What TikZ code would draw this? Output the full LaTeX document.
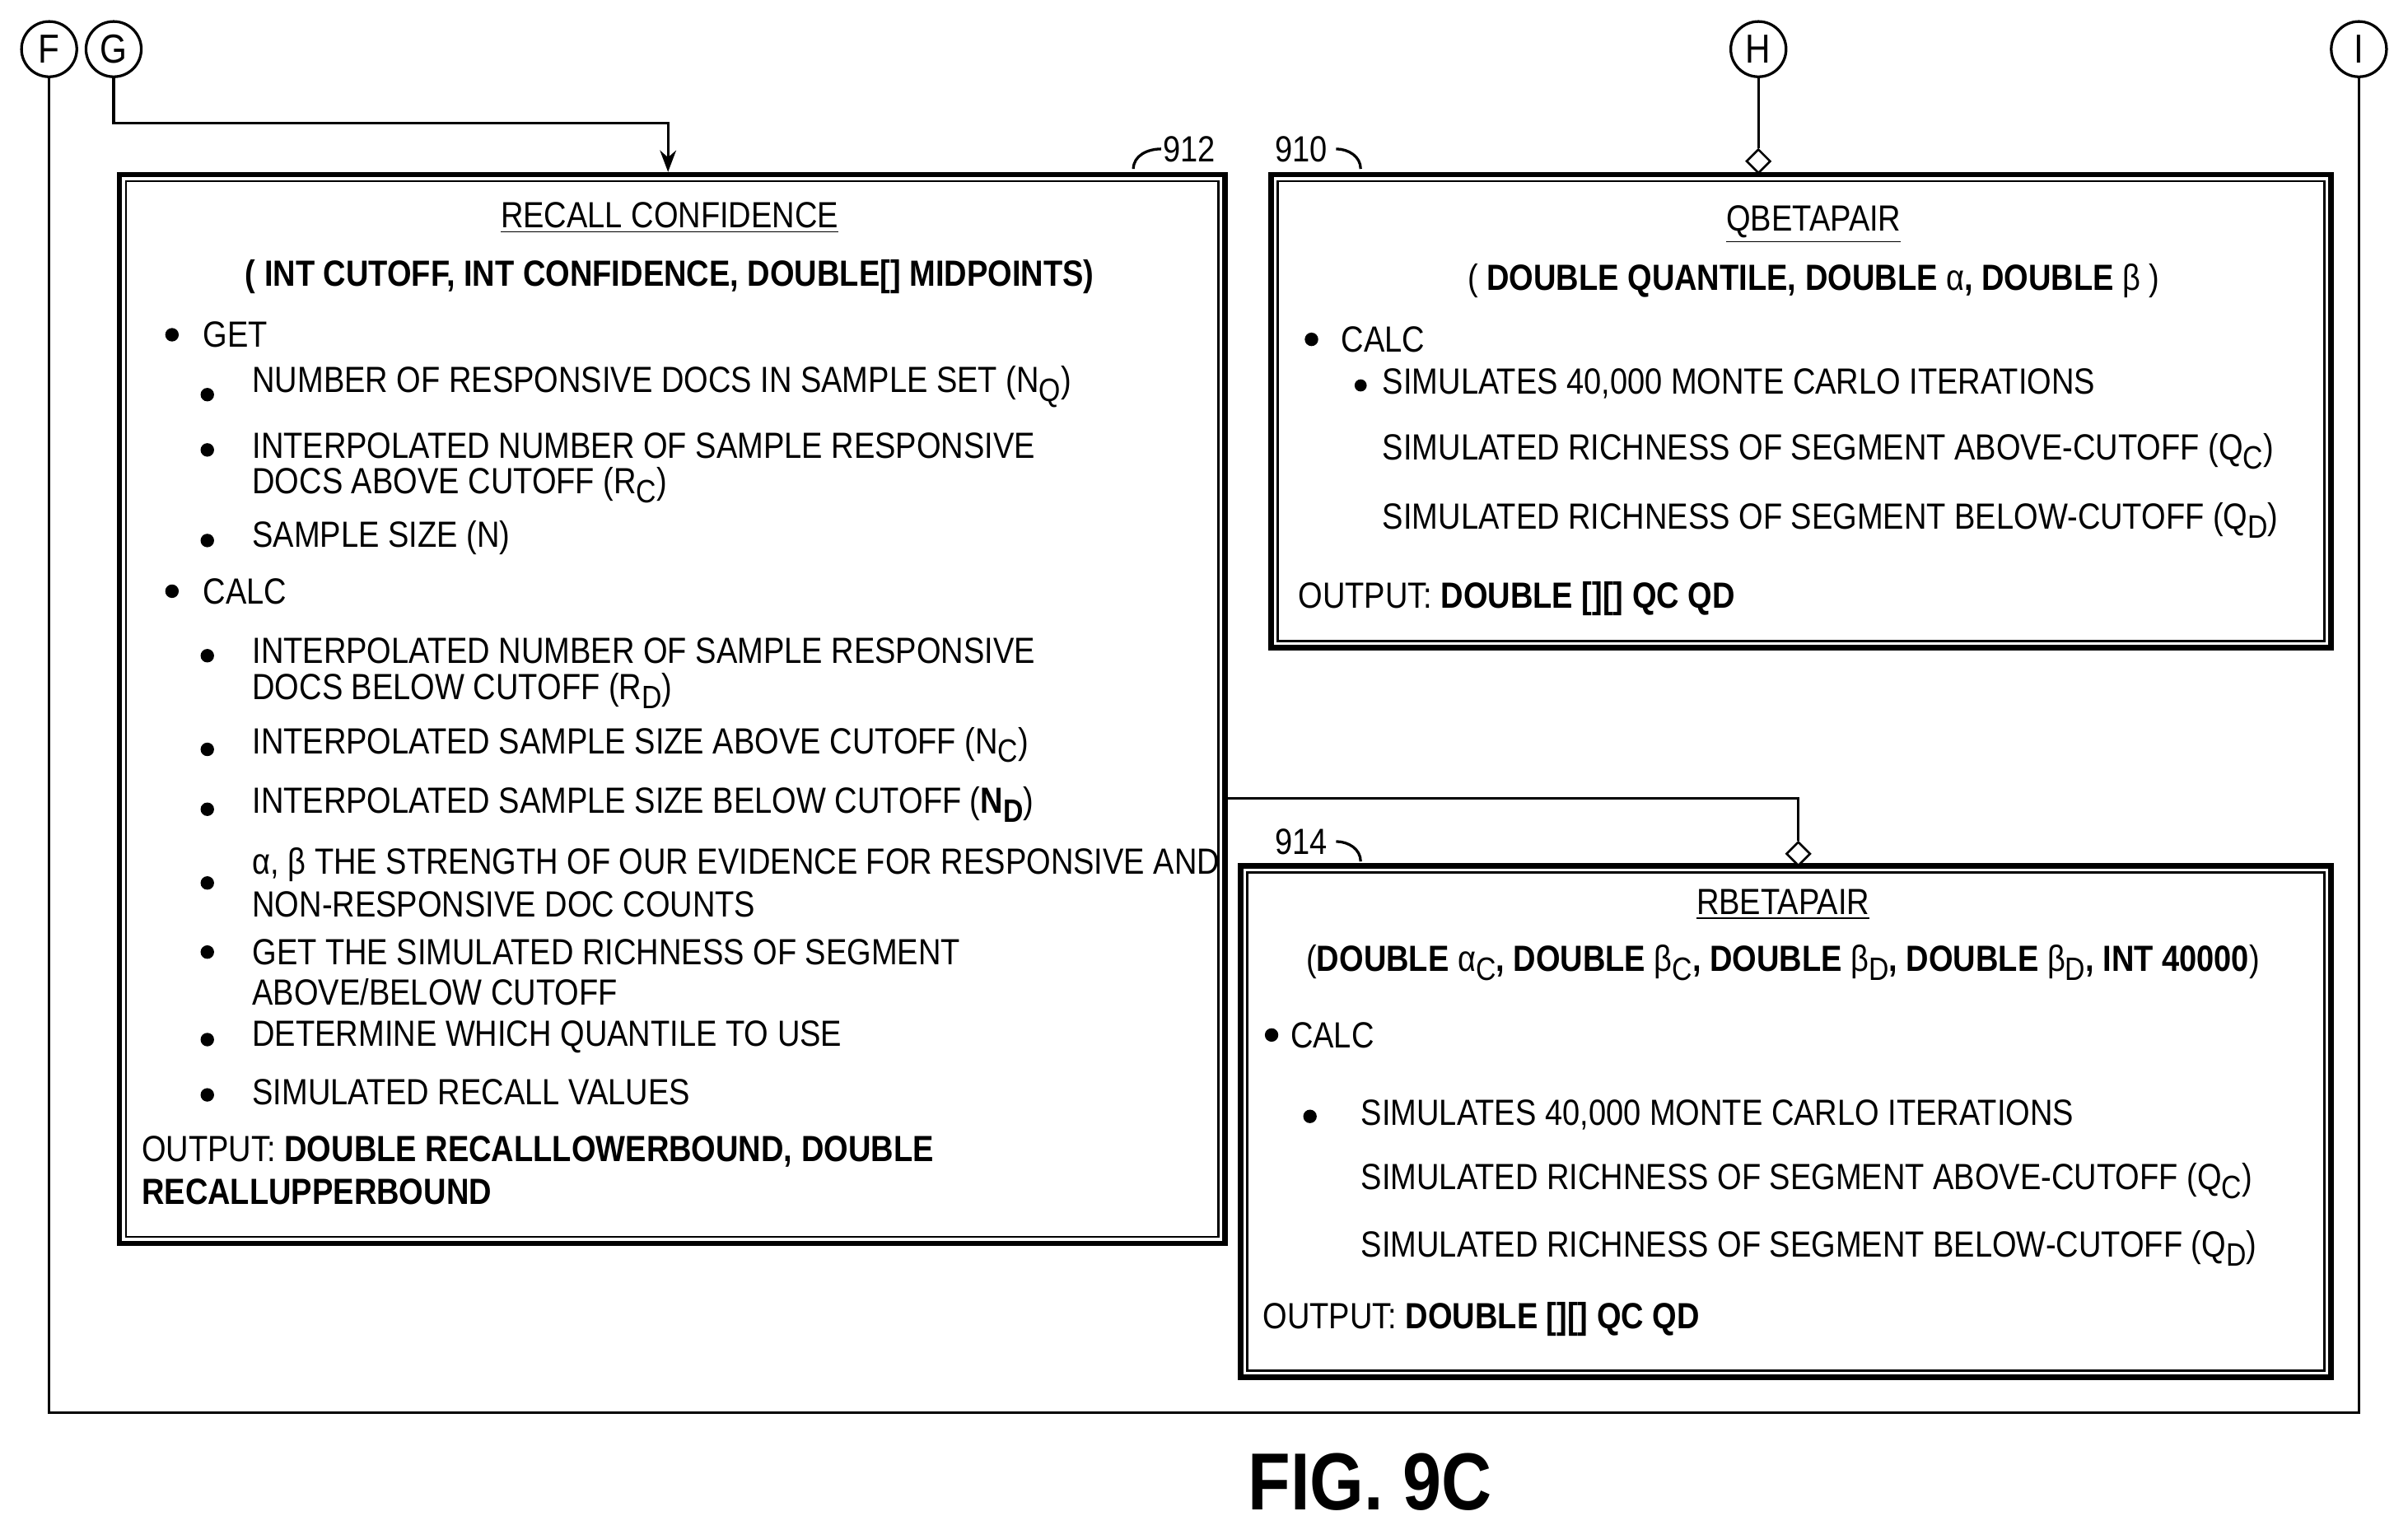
\documentclass[tikz,border=0pt]{standalone}
\usepackage{fontspec}
\setmainfont[FakeStretch=0.86]{Liberation Sans}
\usetikzlibrary{shapes.geometric,arrows.meta}
\newcommand\lsub[1]{\raisebox{-0.45ex}{\fontsize{12}{12}\selectfont #1}}
\tikzset{
  txt/.style={anchor=west, inner sep=0, font=\fontsize{13.5}{15}\selectfont},
  ctxt/.style={txt, anchor=center},
  bul/.style={circle, fill, inner sep=0, minimum size=5pt},
  box/.style={draw, line width=2pt, anchor=north west, inner sep=0},
  con/.style={draw, circle, line width=1pt, minimum size=36*0.02cm, inner sep=0, font=\fontsize{15}{15}\selectfont},
  dia/.style={draw, diamond, fill=white, line width=0.8pt, inner sep=0, minimum size=9pt},
  wire/.style={line width=1pt},
}
\begin{document}
\begin{tikzpicture}[x=0.02cm, y=-0.02cm]
  \useasboundingbox (0,0) rectangle (1568,996);
  % connectors off page
  \node[con] (F) at (32,32) {F};
  \node[con] (G) at (74,32) {G};
  \node[con] (H) at (1145,32) {H};
  \node[con] (I) at (1536,32) {I};
  % boxes
  \node[box, minimum width=720*0.02cm, minimum height=696*0.02cm] (b912) at (76,112) {};
  \node[box, minimum width=690*0.02cm, minimum height=308*0.02cm] (b910) at (826,112) {};
  \node[box, minimum width=710*0.02cm, minimum height=333*0.02cm] (b914) at (806,562) {};
  \foreach \b in {b912,b910,b914}
    \draw[line width=0.8pt] ([shift={(6,6)}]\b.north west) rectangle ([shift={(-6,-6)}]\b.south east);
  % wires
  \coordinate (fc) at (32,920);
  \coordinate (ic) at (1536,920);
  \draw[wire] (F) -- (fc) -- (ic) -- (I);
  \coordinate (gc) at (74,80);
  \coordinate (gd) at (435,80);
  \draw[wire, -{Stealth[length=8pt,width=6pt]}] (G) -- (gc) -- (gd) -- (gd |- b912.north);
  \node[dia] (hd) at (1145,105) {};
  \draw[wire] (H) -- (hd);
  \coordinate (r1) at (796,520);
  \coordinate (r2) at (1171,520);
  \node[dia] (rd) at (1171,556) {};
  \draw[wire] (r1) -- (r2) -- (rd);
  % reference numerals
  \node[txt] (n912) at (757,97) {912};
  \draw[wire] (738,110) to[out=90,in=180] (756,97);
  \node[txt] (n910) at (830,97) {910};
  \draw[wire] (870,97) to[out=0,in=90] (886,110);
  \node[txt] (n914) at (830,548) {914};
  \draw[wire] (870,548) to[out=0,in=90] (886,561);

  % 912
  \node[ctxt] (t1) at (436,142) {\underline{RECALL CONFIDENCE}};
  \node[ctxt] (t2) at (436,180) {\bfseries ( INT CUTOFF, INT CONFIDENCE, DOUBLE[] MIDPOINTS)};
  \foreach \y/\t in {218/GET, 385/CALC} {
    \node[bul] at (112,\y) {};
    \node[txt] at (132,\y) {\t};
  }
  \foreach \y/\t in {
      252/{NUMBER OF RESPONSIVE DOCS IN SAMPLE SET (N\lsub{Q})},
      290/{INTERPOLATED NUMBER OF SAMPLE RESPONSIVE},
      316/{DOCS ABOVE CUTOFF (R\lsub{C})},
      350/{SAMPLE SIZE (N)},
      424/{INTERPOLATED NUMBER OF SAMPLE RESPONSIVE},
      450/{DOCS BELOW CUTOFF (R\lsub{D})},
      485/{INTERPOLATED SAMPLE SIZE ABOVE CUTOFF (N\lsub{C})},
      524/{INTERPOLATED SAMPLE SIZE BELOW CUTOFF (\textbf{N\lsub{\bfseries D}})},
      563/{α, β THE STRENGTH OF OUR EVIDENCE FOR RESPONSIVE AND},
      589/{NON-RESPONSIVE DOC COUNTS},
      620/{GET THE SIMULATED RICHNESS OF SEGMENT},
      646/{ABOVE/BELOW CUTOFF},
      675/{DETERMINE WHICH QUANTILE TO USE},
      711/{SIMULATED RECALL VALUES}}
    \node[txt] at (164,\y) {\t};
  \foreach \y in {257,293,352,427,488,527,575,620,677,713}
    \node[bul] at (135,\y) {};
  \node[txt] (o912) at (92,750) {OUTPUT: \textbf{DOUBLE RECALLLOWERBOUND, DOUBLE}};
  \node[txt] at (92,776) {\textbf{RECALLUPPERBOUND}};

  % 910
  \node[ctxt] (q1) at (1181,146) {\underline{QBETAPAIR}};
  \node[ctxt] (q2) at (1181,183) {( \textbf{DOUBLE QUANTILE, DOUBLE} α\textbf{, DOUBLE} β )};
  \node[bul] at (854,221) {};
  \node[txt] at (873,221) {CALC};
  \node[bul, minimum size=4.5pt] at (886,251) {};
  \node[txt] at (900,250) {SIMULATES 40,000 MONTE CARLO ITERATIONS};
  \node[txt] at (900,294) {SIMULATED RICHNESS OF SEGMENT ABOVE-CUTOFF (Q\lsub{C})};
  \node[txt] at (900,339) {SIMULATED RICHNESS OF SEGMENT BELOW-CUTOFF (Q\lsub{D})};
  \node[txt] (o910) at (845,390) {OUTPUT: \textbf{DOUBLE [][] QC QD}};

  % 914
  \node[ctxt] (p1) at (1161,589) {\underline{RBETAPAIR}};
  \node[ctxt] (p2) at (1161,627) {(\textbf{DOUBLE} α\lsub{C}\textbf{, DOUBLE} β\lsub{C}\textbf{, DOUBLE} β\lsub{D}\textbf{, DOUBLE} β\lsub{D}\textbf{, INT 40000})};
  \node[bul] at (828,674) {};
  \node[txt] at (840,674) {CALC};
  \node[bul] at (853,727) {};
  \node[txt] at (886,726) {SIMULATES 40,000 MONTE CARLO ITERATIONS};
  \node[txt] at (886,769) {SIMULATED RICHNESS OF SEGMENT ABOVE-CUTOFF (Q\lsub{C})};
  \node[txt] at (886,813) {SIMULATED RICHNESS OF SEGMENT BELOW-CUTOFF (Q\lsub{D})};
  \node[txt] (o914) at (822,859) {OUTPUT: \textbf{DOUBLE [][] QC QD}};

  \node[ctxt, font=\fontsize{30}{30}\selectfont\bfseries] (fig) at (892,965) {FIG. 9C};
\end{tikzpicture}
\end{document}
